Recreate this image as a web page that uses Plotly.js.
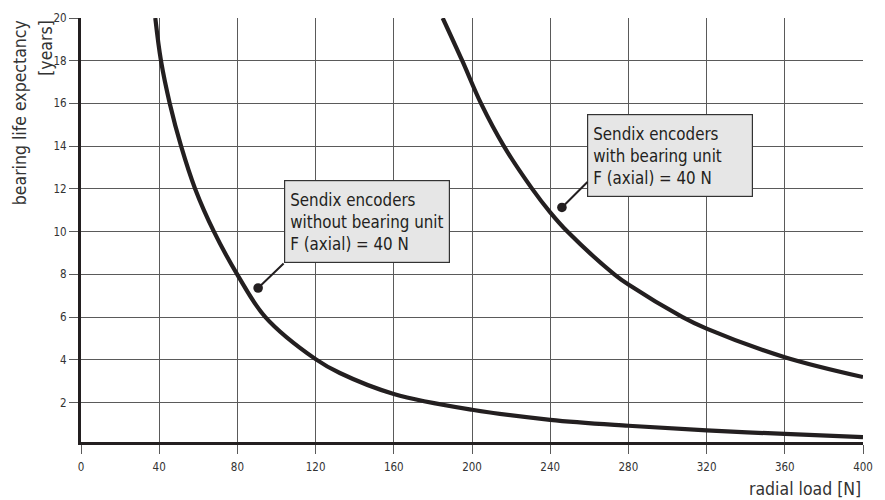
<!DOCTYPE html>
<html>
<head>
<meta charset="utf-8">
<script src="https://cdn.plot.ly/plotly-3.0.1.min.js"></script>
<style>
  html, body { margin: 0; padding: 0; background: #ffffff; }
  #chart { width: 885px; height: 500px; }
</style>
</head>
<body>
<div id="chart"></div>
<script>
// ---- data ----
const radialLoadWithout = [38.0, 40.9, 45.4, 51.2, 58.4, 68.0, 79.9, 94.3, 120, 132.4, 160, 200, 240, 280, 320, 360, 400];
const lifeWithout       = [20, 18, 16, 14, 12, 10, 8, 6, 4.03, 3.38, 2.40, 1.66, 1.19, 0.91, 0.69, 0.53, 0.38];

const radialLoadWith = [185.0, 195.0, 204.6, 216.3, 230.8, 240, 248.8, 272.8, 280, 307.7, 320, 360, 400];
const lifeWith       = [20, 18, 16, 14, 12, 10.9, 10, 8, 7.52, 6, 5.46, 4.12, 3.19];

const xTicks = [0, 40, 80, 120, 160, 200, 240, 280, 320, 360, 400];
const yTicks = [2, 4, 6, 8, 10, 12, 14, 16, 18, 20];

const labelWithout = "Sendix encoders<br>without bearing unit<br>F (axial) = 40 N";
const labelWith    = "Sendix encoders<br>with bearing unit<br>F (axial) = 40 N";
// callout pointer dots (data units) and box top-left corners (data units)
const dotWithout = [90.6, 7.36];
const dotWith    = [246.0, 11.13];
const boxWithout = [103.9, 12.43];
const boxWith    = [259.0, 15.5];

const FONT = "'DejaVu Sans Condensed', 'Liberation Sans Narrow', 'Arial Narrow', sans-serif";
const INK = "#231f20";
const GRID = "#5a5a5a";

const traces = [
  { x: radialLoadWithout, y: lifeWithout, mode: "lines", type: "scatter",
    line: { color: INK, width: 4.2, shape: "spline", smoothing: 1 }, hoverinfo: "skip" },
  { x: radialLoadWith, y: lifeWith, mode: "lines", type: "scatter",
    line: { color: INK, width: 4.2, shape: "spline", smoothing: 1 }, hoverinfo: "skip" }
];

function box(pos, text) {
  return { x: pos[0], y: pos[1], xref: "x", yref: "y", xanchor: "left", yanchor: "top",
    text: text, showarrow: false, align: "left", valign: "middle",
    width: 154, height: 71,
    bgcolor: "#e6e6e6", bordercolor: "#333333", borderwidth: 1.2, borderpad: 5,
    font: { family: FONT, size: 16.8, color: INK } };
}
function pointer(dot, ax, ay) {
  return { x: dot[0], y: dot[1], xref: "x", yref: "y", text: " ", showarrow: true,
    ax: ax, ay: ay, arrowhead: 6, arrowsize: 1.2, arrowwidth: 2, arrowcolor: INK,
    standoff: 0, borderpad: 0, font: { size: 1 } };
}

const layout = {
  width: 885, height: 500,
  margin: { l: 81, r: 21.7, t: 18.3, b: 57.7 },
  paper_bgcolor: "#ffffff", plot_bgcolor: "#ffffff",
  showlegend: false,
  font: { family: FONT, color: "#333333" },
  xaxis: {
    range: [0, 400], tickvals: xTicks, ticktext: xTicks.map(String),
    showgrid: true, gridcolor: GRID, gridwidth: 1,
    showline: true, linecolor: INK, linewidth: 3,
    ticks: "outside", ticklen: 9, tickcolor: GRID, tickwidth: 1,
    tickfont: { family: FONT, size: 11.5, color: "#333333" },
    ticklabelstandoff: 3,
    zeroline: false, fixedrange: true
  },
  yaxis: {
    range: [0.15, 20], tickvals: yTicks, ticktext: yTicks.map(String),
    showgrid: true, gridcolor: GRID, gridwidth: 1,
    showline: true, linecolor: INK, linewidth: 3,
    ticks: "outside", ticklen: 9, tickcolor: GRID, tickwidth: 1,
    tickfont: { family: FONT, size: 11.5, color: "#333333" },
    ticklabelstandoff: 0,
    zeroline: false, fixedrange: true
  },
  annotations: [
    box(boxWithout, labelWithout),
    box(boxWith, labelWith),
    pointer(dotWithout, 26, -25),
    pointer(dotWith, 26, -26),
    { text: "bearing life expectancy", xref: "paper", yref: "paper", x: -0.0784, y: 1,
      xanchor: "center", yanchor: "top", textangle: -90, showarrow: false,
      font: { family: FONT, size: 17.5, color: "#333333" } },
    { text: "[years]", xref: "paper", yref: "paper", x: -0.0450, y: 1,
      xanchor: "center", yanchor: "top", textangle: -90, showarrow: false,
      font: { family: FONT, size: 17.5, color: "#333333" } },
    { text: "radial load [N]", xref: "paper", yref: "paper", x: 1, y: -0.110,
      xanchor: "right", yanchor: "middle", showarrow: false,
      font: { family: FONT, size: 17.5, color: "#333333" } }
  ]
};

Plotly.newPlot("chart", traces, layout, { staticPlot: true, displayModeBar: false });
</script>
</body>
</html>
